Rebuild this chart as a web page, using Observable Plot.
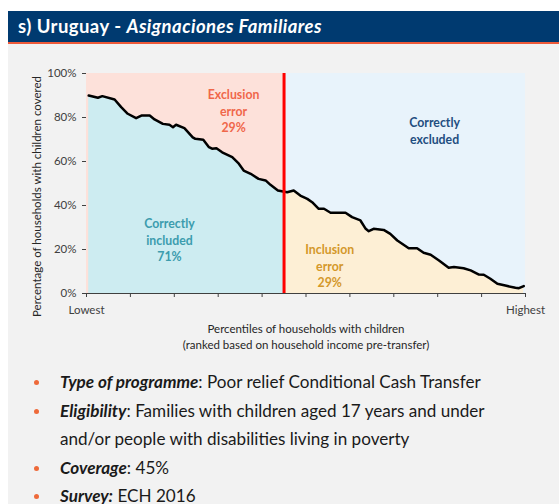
<!DOCTYPE html>
<html>
<head>
<meta charset="utf-8">
<script src="https://cdn.jsdelivr.net/npm/d3@7"></script>
<script src="https://cdn.jsdelivr.net/npm/@observablehq/plot@0.6"></script>
<style>
  html, body { margin: 0; padding: 0; background: #ffffff; }
  body { width: 559px; height: 504px; position: relative; overflow: hidden; font-family: Lato, "Open Sans", sans-serif; }
  #panel { position: absolute; left: 8px; top: 11px; width: 551px; height: 493px; background: #f2f2f2; }
  #bar { position: absolute; left: 8px; top: 11px; width: 551px; height: 31px; background: #003a70; border-bottom: 2px solid #ee5a3a; }
  #bar span { position: absolute; left: 10px; top: 4px; color: #fff; font-weight: bold; font-size: 18.5px; letter-spacing: 0.45px; white-space: nowrap; }
  #chart { position: absolute; left: 0; top: 0; }
  #notes { position: absolute; left: 0; top: 368px; margin: 0; padding: 0; list-style: none; }
  #notes li { position: relative; padding-left: 60px; font-size: 17.1px; line-height: 28.5px; color: #1a1a1a; width: 445px; }
  #notes li::before { content: ""; position: absolute; left: 34px; top: 12px; width: 5px; height: 5px; border-radius: 50%; background: #ee6a3a; }
  #notes b { font-style: italic; }
</style>
</head>
<body>
<div id="panel"></div>
<div id="bar"><span>s) Uruguay - <i>Asignaciones Familiares</i></span></div>
<div id="chart"></div>
<ul id="notes">
  <li><b>Type of programme</b>: Poor relief Conditional Cash Transfer</li>
  <li><b>Eligibility</b>: Families with children aged 17 years and under and/or people with disabilities living in poverty</li>
  <li><b>Coverage</b>: 45%</li>
  <li><b>Survey:</b> ECH 2016</li>
</ul>
<script>
// Percentile of households with children (ranked by pre-transfer income)
const percentile = [0.5, 2.6, 3.6, 6.4, 7.9, 9.4, 11.3, 12.5, 14.4, 15.5, 17.4, 18.9, 19.7, 20.4, 22.3, 24.2, 24.8, 26.6, 27.9, 28.6, 29.6, 30.9, 33.2, 34.7, 35.8, 37.4, 39.2, 40.8, 41.9, 43.6, 45.7, 47.2, 48.7, 50.3, 51.4, 52.9, 54.1, 55.6, 59.0, 60.5, 62.4, 63.6, 64.3, 65.4, 67.7, 69.2, 70.8, 73.4, 75.3, 76.8, 78.4, 80.3, 82.5, 83.7, 85.9, 87.5, 89.4, 90.5, 92.0, 93.6, 95.4, 97.7, 98.5, 99.6];
// Percentage of households with children covered
const covered = [90.0, 89.0, 89.7, 88.2, 84.7, 81.7, 79.7, 80.9, 80.9, 79.1, 77.1, 76.7, 75.6, 76.7, 75.2, 71.0, 70.3, 69.9, 66.5, 65.8, 66.0, 64.2, 62.0, 59.0, 55.9, 54.4, 52.1, 51.4, 49.4, 46.8, 46.0, 46.8, 44.5, 43.0, 41.5, 38.5, 38.5, 36.7, 36.7, 34.7, 33.2, 29.4, 28.3, 29.4, 28.9, 27.1, 24.1, 20.6, 20.6, 18.5, 17.6, 15.0, 11.7, 12.0, 11.5, 10.5, 8.6, 8.5, 6.7, 4.4, 3.6, 2.6, 2.4, 3.4];
const coverage = 45;
const yTicks = [0, 20, 40, 60, 80, 100];
const xTicks = [0, 10, 20, 30, 40, 50, 60, 70, 80, 90, 100];
const xTickLabels = {0: "Lowest", 100: "Highest"};
const annLabels = ["Exclusion\nerror\n29%", "Correctly\nexcluded", "Correctly\nincluded\n71%", "Inclusion\nerror\n29%"];
const annX = [33.5, 79.3, 18.9, 55.4];
const annY = [83.2, 74.3, 24.5, 12.7];
const annColor = ["#f0674a", "#1f4e80", "#3c9cae", "#d4982a"];
const regionX1 = [0, coverage];
const regionX2 = [coverage, 100];
const regionFill = ["#fde1da", "#e8f3fb"];

const curve = percentile.map((p, i) => ({p, v: covered[i]}));
const regions = regionX1.map((x1, i) => ({x1, x2: regionX2[i], fill: regionFill[i]}));
const ann = annLabels.map((t, i) => ({t, x: annX[i], y: annY[i], c: annColor[i]}));

const H = 355;
const chart = Plot.plot({
  width: 559,
  height: H,
  marginLeft: 86,
  marginRight: 34,
  marginTop: 73,
  marginBottom: 62,
  style: {background: "transparent", fontFamily: "Lato, 'Open Sans', sans-serif", fontSize: "11.5px", color: "#404040"},
  x: {domain: [0, 100], ticks: xTicks, tickFormat: d => xTickLabels[d] || "", tickSize: 4, tickPadding: 8, label: null, line: true},
  y: {domain: [0, 100], ticks: yTicks, tickFormat: d => d + "%", tickSize: 4, tickPadding: 6, label: null, line: true},
  marks: [
    Plot.rect(regions, {x1: "x1", x2: "x2", y1: 0, y2: 100, fill: "fill"}),
    Plot.areaY(curve, {x: "p", y: "v", fill: "#cdecf1", ariaDescription: "below-left"}),
    Plot.areaY(curve, {x: "p", y: "v", fill: "#fdefd5", ariaDescription: "below-right"}),
    Plot.line(curve, {x: "p", y: "v", stroke: "#000", strokeWidth: 2.5, strokeLinejoin: "round"}),
    Plot.ruleX([coverage], {y1: 0, y2: 100, stroke: "#ff0000", strokeWidth: 3}),
    Plot.text(ann, {x: "x", y: "y", text: "t", fill: "c", fontWeight: "bold", fontSize: 12.3, lineHeight: 1.34, lineAnchor: "middle"}),
    Plot.text(["Percentiles of households with children\n(ranked based on household income pre-transfer)"], {frameAnchor: "bottom", dy: 42, lineAnchor: "middle", lineHeight: 1.4, fill: "#262626", fontSize: 11.5}),
    Plot.text(["Percentage of households with children covered"], {frameAnchor: "left", textAnchor: "middle", lineAnchor: "middle", rotate: -90, dx: -49, dy: 13, fill: "#262626", fontSize: 11.5})
  ]
});

// clip the two areas at the coverage threshold using the chart's x scale
const xs = chart.scale("x");
const sx = d3.scaleLinear(xs.domain, xs.range);
const cx = sx(coverage);
const ns = "http://www.w3.org/2000/svg";
const defs = document.createElementNS(ns, "defs");
function addClip(id, x0, x1) {
  const cp = document.createElementNS(ns, "clipPath");
  cp.setAttribute("id", id);
  const r = document.createElementNS(ns, "rect");
  r.setAttribute("x", x0); r.setAttribute("y", 0);
  r.setAttribute("width", x1 - x0); r.setAttribute("height", H);
  cp.appendChild(r);
  defs.appendChild(cp);
}
addClip("clipLeft", 0, cx);
addClip("clipRight", cx, 559);
chart.insertBefore(defs, chart.firstChild);
const areas = chart.querySelectorAll('g[aria-label="area"]');
const gl = chart.querySelector('[aria-description="below-left"]') || areas[0];
const gr = chart.querySelector('[aria-description="below-right"]') || areas[1];
if (gl) gl.setAttribute("clip-path", "url(#clipLeft)");
if (gr) gr.setAttribute("clip-path", "url(#clipRight)");

document.getElementById("chart").appendChild(chart);
</script>
</body>
</html>
